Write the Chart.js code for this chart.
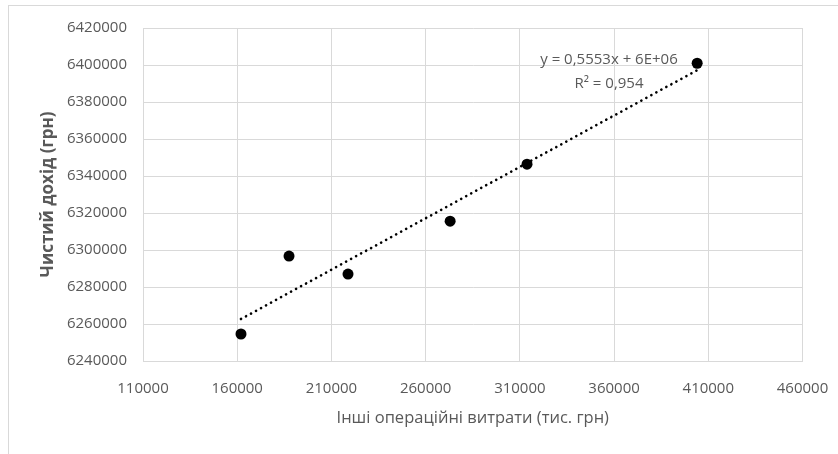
<!DOCTYPE html>
<html>
<head>
<meta charset="utf-8">
<script src="https://cdn.jsdelivr.net/npm/chart.js@4.4.1/dist/chart.umd.min.js"></script>
<style>
  html, body { margin: 0; padding: 0; background: #fff; }
  #wrap { position: relative; width: 838px; height: 454px; }
  #frame { position: absolute; left: 8px; top: 5px; right: 0; bottom: 0;
           border-top: 1px solid #d9d9d9; border-left: 1px solid #d9d9d9; pointer-events: none; }
</style>
</head>
<body>
<div id="wrap">
  <canvas id="chart" width="838" height="454"></canvas>
  <div id="frame"></div>
</div>
<script>
// observed points
const otherCosts = [162000, 187500, 218800, 273000, 313800, 404100];
const netIncome = [6254600, 6296700, 6287000, 6315600, 6346400, 6400950];

// linear trend line, ends
const trendX = [162000, 404100];
const trendY = [6262700, 6397200];

const xTicks = [110000, 160000, 210000, 260000, 310000, 360000, 410000, 460000];
const yTicks = [6240000, 6260000, 6280000, 6300000, 6320000, 6340000, 6360000, 6380000, 6400000, 6420000];

const trendLabel = ['y = 0,5553x + 6E+06', 'R² = 0,954'];

const FONT = "'Open Sans', sans-serif";
const GREY = '#595959';
const GRID = '#d9d9d9';

const trendLabelPlugin = {
  id: 'trendLabel',
  afterDatasetsDraw(chart) {
    const { ctx, scales } = chart;
    const x = scales.x.getPixelForValue(357300);
    ctx.save();
    ctx.fillStyle = GREY;
    ctx.font = '15px ' + FONT;
    ctx.textAlign = 'center';
    ctx.textBaseline = 'middle';
    ctx.fillText(trendLabel[0], x, scales.y.getPixelForValue(6402600));
    ctx.fillText(trendLabel[1], x, scales.y.getPixelForValue(6389900));
    ctx.restore();
  }
};

new Chart(document.getElementById('chart').getContext('2d'), {
  type: 'scatter',
  data: {
    datasets: [
      {
        label: 'Дані',
        data: otherCosts.map((v, i) => ({ x: v, y: netIncome[i] })),
        backgroundColor: '#000',
        borderWidth: 0,
        pointRadius: 5.5,
        order: 1
      },
      {
        label: 'Тренд',
        type: 'line',
        data: trendX.map((v, i) => ({ x: v, y: trendY[i] })),
        borderColor: '#000',
        borderWidth: 2.6,
        borderDash: [0.1, 5.6],
        borderCapStyle: 'round',
        pointRadius: 0,
        fill: false,
        order: 2
      }
    ]
  },
  options: {
    responsive: false,
    animation: false,
    layout: { padding: { left: 0, right: 35.5, top: 28, bottom: 0 } },
    plugins: {
      legend: { display: false },
      tooltip: { enabled: false }
    },
    scales: {
      x: {
        type: 'linear',
        min: 110000,
        max: 460000,
        afterBuildTicks: s => { s.ticks = xTicks.map(v => ({ value: v })); },
        afterFit: s => { s.height = 93; s.paddingLeft = 0; s.paddingRight = 0; },
        ticks: { color: GREY, font: { family: FONT, size: 15 }, padding: 19, maxRotation: 0, callback: v => String(v) },
        grid: { color: GRID, drawTicks: false },
        border: { color: GRID },
        title: {
          display: true,
          text: 'Інші операційні витрати (тис. грн)',
          color: GREY,
          font: { family: FONT, size: 16.5 },
          padding: { top: 0, bottom: 26 }
        }
      },
      y: {
        type: 'linear',
        min: 6240000,
        max: 6420000,
        afterBuildTicks: s => { s.ticks = yTicks.map(v => ({ value: v })); },
        afterFit: s => { s.width = 143; s.paddingTop = 0; s.paddingBottom = 0; },
        ticks: { color: GREY, font: { family: FONT, size: 15 }, padding: 16, callback: v => String(v) },
        grid: { color: GRID, drawTicks: false },
        border: { color: GRID },
        title: {
          display: true,
          text: 'Чистий дохід (грн)',
          color: GREY,
          font: { family: FONT, size: 17, weight: 'bold' },
          padding: { top: 38, bottom: 0 }
        }
      }
    }
  },
  plugins: [trendLabelPlugin]
});
</script>
</body>
</html>
